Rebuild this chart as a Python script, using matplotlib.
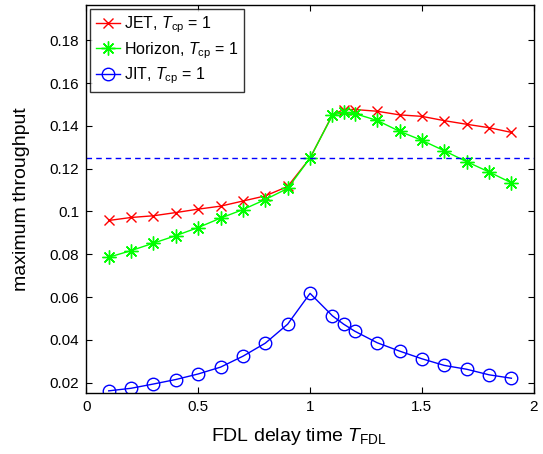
import matplotlib
matplotlib.use("Agg")
import matplotlib.pyplot as plt

plt.rcParams['font.family'] = ['Liberation Sans', 'DejaVu Sans']
plt.rcParams['mathtext.fontset'] = 'custom'
plt.rcParams['mathtext.rm'] = 'Liberation Sans'
plt.rcParams['mathtext.it'] = 'Liberation Sans:italic'

# FDL delay values
x_vals = [0.1, 0.2, 0.3, 0.4, 0.5, 0.6, 0.7, 0.8, 0.9, 1.0,
          1.1, 1.15, 1.2, 1.3, 1.4, 1.5, 1.6, 1.7, 1.8, 1.9]

jet = [0.0958, 0.0972, 0.0980, 0.0995, 0.1011, 0.1025, 0.1049, 0.1073, 0.1117, 0.1250,
       0.1452, 0.1477, 0.1477, 0.1469, 0.1452, 0.1445, 0.1425, 0.1408, 0.1392, 0.1370]

horizon = [0.0786, 0.0817, 0.0852, 0.0887, 0.0925, 0.0969, 0.1009, 0.1056, 0.1108, 0.1250,
           0.1450, 0.1464, 0.1458, 0.1426, 0.1375, 0.1333, 0.1284, 0.1233, 0.1185, 0.1134]

jit = [0.0161, 0.0173, 0.0193, 0.0214, 0.0240, 0.0272, 0.0323, 0.0384, 0.0473, 0.0617,
       0.0512, 0.0473, 0.0440, 0.0386, 0.0347, 0.0311, 0.0280, 0.0262, 0.0236, 0.0220]

reference_level = 0.125

x_ticks = [0, 0.5, 1, 1.5, 2]
x_ticklabels = ['0', '0.5', '1', '1.5', '2']
y_ticks = [0.02, 0.04, 0.06, 0.08, 0.10, 0.12, 0.14, 0.16, 0.18]
y_ticklabels = ['0.02', '0.04', '0.06', '0.08', '0.1', '0.12', '0.14', '0.16', '0.18']

fig = plt.figure(figsize=(5.43, 4.54), dpi=100)
ax = fig.add_axes([0.159, 0.1344, 0.824, 0.8546])

ax.plot(x_vals, jet, color='#ff0000', marker='x', ms=7, mew=1.0, lw=1.0,
        label=r'JET, $T_{\rm cp}$ = 1')
ax.plot(x_vals, horizon, color='#00ff00', marker=(8, 2, 0), ms=10, mew=1.0, lw=1.0,
        label=r'Horizon, $T_{\rm cp}$ = 1')
ax.plot(x_vals, jit, color='#0000ff', marker='o', ms=9, mew=1.0, lw=1.0,
        markerfacecolor='none', label=r'JIT, $T_{\rm cp}$ = 1')
ax.axhline(reference_level, color='#0000ff', ls=(0, (4, 3)), lw=1.0)

ax.set_xlim(0, 2)
ax.set_ylim(0.0151, 0.1966)
ax.set_xticks(x_ticks)
ax.set_xticklabels(x_ticklabels)
ax.set_yticks(y_ticks)
ax.set_yticklabels(y_ticklabels)
ax.tick_params(direction='in', top=True, right=True, length=4, width=0.8,
               labelsize=11, pad=5)
for s in ax.spines.values():
    s.set_linewidth(1.0)

ax.set_xlabel(r'FDL delay time $T_{\rm FDL}$', fontsize=14)
ax.set_ylabel('maximum throughput', fontsize=14)
ax.yaxis.set_label_coords(-0.126, 0.5)
ax.xaxis.set_label_coords(0.475, -0.085)

leg = ax.legend(loc='upper left', fontsize=11.5, frameon=True, fancybox=False,
                edgecolor='black', borderaxespad=0.25, handlelength=1.5,
                handletextpad=0.25, borderpad=0.35, labelspacing=0.3)
leg.get_frame().set_linewidth(1.0)

fig.savefig('out.png', dpi=100)
